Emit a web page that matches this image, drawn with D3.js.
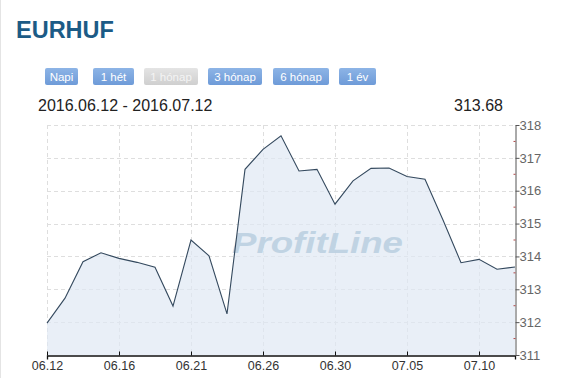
<!DOCTYPE html>
<html>
<head>
<meta charset="utf-8">
<script src="https://cdn.jsdelivr.net/npm/d3@7"></script>
<style>
  body { margin: 0; background: #fff; }
  svg { display: block; font-family: Arial, "Liberation Sans", sans-serif; }
</style>
</head>
<body>
<svg id="chart" width="566" height="378"></svg>
<script>
const dates = ["06.12","06.13","06.14","06.15","06.16","06.17","06.18","06.20","06.21","06.22",
  "06.23","06.24","06.26","06.27","06.28","06.29","06.30","07.01","07.02","07.04",
  "07.05","07.06","07.07","07.08","07.10","07.11","07.12"];
const rates = [311.97, 312.73, 313.84, 314.11, 313.94, 313.82, 313.67, 312.49, 314.50, 314.02,
  312.25, 316.65, 317.26, 317.67, 316.60, 316.65, 315.59, 316.30, 316.68, 316.69,
  316.43, 316.35, 315.11, 313.81, 313.91, 313.61, 313.68];
const yTicks = [311, 312, 313, 314, 315, 316, 317, 318];
const buttons = ["Napi", "1 hét", "1 hónap", "3 hónap", "6 hónap", "1 év"];
const activeButton = "1 hónap";

const svg = d3.select("#chart");

// left border line of the page frame
svg.append("line").attr("x1", 0.5).attr("x2", 0.5).attr("y1", 0).attr("y2", 378)
  .attr("stroke", "#e4e4e4");

svg.append("text").attr("x", 16).attr("y", 38)
  .attr("font-size", 23.5).attr("font-weight", "bold").attr("fill", "#1c5b86")
  .text("EURHUF");

// period buttons
const btnX = [45, 93, 144, 208, 273, 339];
const btnW = [33, 41, 54, 54, 56, 37];
const defs = svg.append("defs");
const gBlue = defs.append("linearGradient").attr("id", "gb").attr("x2", 0).attr("y2", 1);
gBlue.append("stop").attr("offset", 0).attr("stop-color", "#8db4e6");
gBlue.append("stop").attr("offset", 1).attr("stop-color", "#6e9bd8");
const gGray = defs.append("linearGradient").attr("id", "gg").attr("x2", 0).attr("y2", 1);
gGray.append("stop").attr("offset", 0).attr("stop-color", "#e4e4e4");
gGray.append("stop").attr("offset", 1).attr("stop-color", "#cfcfcf");

const btn = svg.selectAll("g.btn").data(buttons).enter().append("g")
  .attr("transform", (d, i) => `translate(${btnX[i]},68)`);
btn.append("rect").attr("width", (d, i) => btnW[i]).attr("height", 17).attr("rx", 2)
  .attr("fill", d => d === activeButton ? "url(#gg)" : "url(#gb)");
btn.append("text").attr("x", (d, i) => btnW[i] / 2).attr("y", 12.5)
  .attr("text-anchor", "middle").attr("font-size", 11.5)
  .attr("fill", d => d === activeButton ? "#f4f4f4" : "#fff")
  .text(d => d);

svg.append("text").attr("x", 38).attr("y", 111).attr("font-size", 16).attr("fill", "#222")
  .text("2016.06.12 - 2016.07.12");
svg.append("text").attr("x", 503).attr("y", 111).attr("font-size", 16).attr("fill", "#222")
  .attr("text-anchor", "end").text(rates[rates.length - 1].toFixed(2));

const x = d3.scaleLinear().domain([0, dates.length - 1]).range([47, 515]);
const y = d3.scaleLinear().domain([311, 318]).range([355, 125]);

const labelIdx = dates.map((d, i) => i).filter(i => i % 4 === 0);

// grid
svg.append("g").selectAll("line").data(yTicks.slice(1)).enter().append("line")
  .attr("x1", 47).attr("x2", 515).attr("y1", d => Math.round(y(d)) + 0.5).attr("y2", d => Math.round(y(d)) + 0.5)
  .attr("stroke", "#dedede").attr("stroke-dasharray", "4,3");
svg.append("g").selectAll("line").data(labelIdx).enter().append("line")
  .attr("x1", d => Math.round(x(d)) + 0.5).attr("x2", d => Math.round(x(d)) + 0.5)
  .attr("y1", 125).attr("y2", 355)
  .attr("stroke", "#dedede").attr("stroke-dasharray", "4,3");

const area = d3.area().x((d, i) => x(i)).y0(y(311)).y1(d => y(d));
svg.append("path").datum(rates).attr("d", area).attr("fill", "#dfe8f3").attr("opacity", 0.7);

// watermark
svg.append("text").attr("x", 232).attr("y", 253)
  .attr("font-size", 30).attr("font-weight", "bold").attr("font-style", "italic")
  .attr("textLength", 171).attr("lengthAdjust", "spacingAndGlyphs")
  .attr("fill", "#bcd1e1").attr("opacity", 0.9).text("ProfitLine");

const line = d3.line().x((d, i) => x(i)).y(d => y(d));
svg.append("path").datum(rates).attr("d", line).attr("fill", "none")
  .attr("stroke", "#34495e").attr("stroke-width", 1.1);

// x axis
const xAxis = d3.axisBottom(x).tickValues(labelIdx).tickFormat(i => dates[i]).tickSize(4);
const gx = svg.append("g").attr("transform", "translate(0,355.5)").call(xAxis);
gx.select(".domain").attr("stroke", "#111").attr("stroke-width", 1.3);
gx.selectAll(".tick line").attr("stroke", "#111").attr("transform", "translate(0,-4)").attr("y2", 4);
gx.selectAll("text").attr("font-size", 12.5).attr("fill", "#333").attr("dy", "0.71em").attr("y", 6)
  .attr("font-family", "Arial, 'Liberation Sans', sans-serif");

// y axis
const yAxis = d3.axisRight(y).tickValues(yTicks).tickFormat(d3.format("d")).tickSize(4).tickSizeOuter(0);
const gy = svg.append("g").attr("transform", "translate(515.5,0)").call(yAxis);
gy.select(".domain").attr("stroke", "#555");
gy.selectAll(".tick line").attr("stroke", "#555");
gy.selectAll("text").attr("font-size", 13).attr("fill", "#666").attr("x", 4)
  .attr("font-family", "Arial, 'Liberation Sans', sans-serif");
// minor ticks
gy.append("g").selectAll("line").data(yTicks.slice(1).map(v => v - 0.5)).enter().append("line")
  .attr("x1", -2).attr("x2", 0).attr("y1", d => y(d)).attr("y2", d => y(d))
  .attr("stroke", "#b04848");
</script>
</body>
</html>
